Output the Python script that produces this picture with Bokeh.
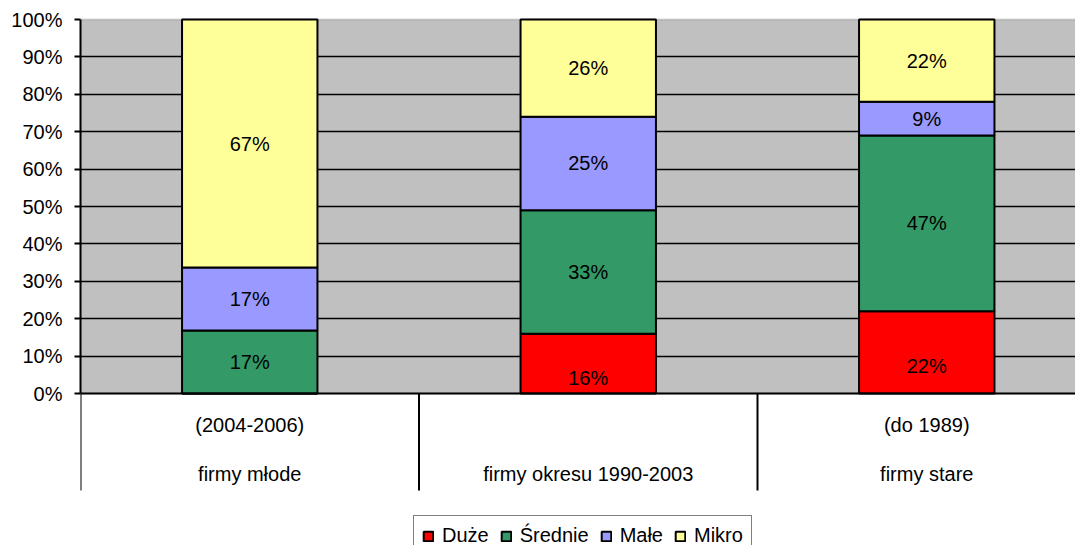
from bokeh.plotting import figure
from bokeh.models import (Range1d, FixedTicker, PrintfTickFormatter, BoxAnnotation, Span)
from bokeh.core.properties import value
from bokeh.embed import file_html
from bokeh.resources import INLINE

# ---- data ----
categories_top = ["(2004-2006)", "", "(do 1989)"]
categories_bottom = ["firmy młode", "firmy okresu 1990-2003", "firmy stare"]
series = ["Duże", "Średnie", "Małe", "Mikro"]
duze = [0, 16, 22]
srednie = [17, 33, 47]
male = [17, 25, 9]
mikro = [67, 26, 22]
colors = ["#FF0000", "#339966", "#9999FF", "#FFFF99"]
y_ticks = [0, 10, 20, 30, 40, 50, 60, 70, 80, 90, 100]

FONT = "Liberation Sans"
values = [duze, srednie, male, mikro]
n = len(categories_bottom)
xs = [i + 0.5 for i in range(n)]
totals = [sum(v[i] for v in values) for i in range(n)]

W, H = 1075, 545
LEFT, TOP = 80, 17
PX = 3.74  # pixels per percentage point
ZERO = 393  # pixel row of 0%
p = figure(width=W, height=H, output_backend="svg", toolbar_location=None,
           x_axis_type=None,
           x_range=Range1d(0, (W - LEFT) / 338.5),
           y_range=Range1d(-(H - ZERO) / PX, (ZERO - TOP) / PX),
           min_border_left=LEFT, min_border_right=0, min_border_top=TOP, min_border_bottom=0)
p.outline_line_color = None
p.background_fill_color = "white"
p.border_fill_color = "white"

# plot area background
p.add_layout(BoxAnnotation(left=0, right=n, bottom=0, top=100, fill_color="#C0C0C0",
                           fill_alpha=1, line_color="#808080", line_width=2, level="image"))

# y axis
ax = p.yaxis[0]
ax.ticker = FixedTicker(ticks=y_ticks)
ax.formatter = PrintfTickFormatter(format="%d%%")
ax.bounds = (0, 100)
ax.axis_line_color = "black"
ax.axis_line_width = 2
ax.major_tick_line_color = "black"
ax.major_tick_line_width = 2
ax.major_tick_out = 6
ax.major_tick_in = 0
ax.minor_tick_line_color = None
ax.major_label_standoff = 12
ax.major_label_text_font = FONT
ax.major_label_text_font_size = "20px"
ax.major_label_text_color = "black"

g = p.ygrid[0]
g.ticker = FixedTicker(ticks=y_ticks[1:-1])
g.grid_line_color = "black"
g.grid_line_width = 1.5
g.bounds = (0, 100)

p.add_layout(Span(location=0, dimension="width", line_color="black", line_width=2))

# stacked bars
bottom = [0.0] * n
for name, vals, col in zip(series, values, colors):
    h = [vals[i] / totals[i] * 100 for i in range(n)]
    top = [bottom[i] + h[i] for i in range(n)]
    p.vbar(x=xs, bottom=bottom, top=top, width=0.4, fill_color=col,
           line_color="black", line_width=2, legend_label=name)
    lx, ly, lt = [], [], []
    for i in range(n):
        if vals[i] > 0:
            lx.append(xs[i]); ly.append((bottom[i] + top[i]) / 2); lt.append(f"{vals[i]}%")
    p.text(x=lx, y=ly, text=lt, text_font=value(FONT), text_font_size="20px",
           text_align="center", text_baseline="middle", text_color="black",
           y_offset=14 if name == "Duże" else 0)
    bottom = top

# category axis separators and labels
sep_x = list(range(n + 1))
p.segment(x0=sep_x, x1=sep_x, y0=[0] * len(sep_x), y1=[-97 / PX] * len(sep_x),
          line_color="black", line_width=2)
p.text(x=xs, y=[-31 / PX] * n, text=categories_top, text_font=value(FONT),
       text_font_size="20px", text_align="center", text_baseline="middle", text_color="black")
p.text(x=xs, y=[-80 / PX] * n, text=categories_bottom, text_font=value(FONT),
       text_font_size="20px", text_align="center", text_baseline="middle", text_color="black")

# legend
lg = p.legend[0]
lg.orientation = "horizontal"
lg.location = (333, -11)
lg.label_text_font = FONT
lg.label_text_font_size = "20px"
lg.label_text_color = "black"
lg.glyph_width = 12
lg.glyph_height = 12
lg.label_standoff = 8
lg.spacing = 11
lg.padding = 8
lg.margin = 0
lg.border_line_color = "black"
lg.border_line_width = 1.5
lg.background_fill_color = "white"
lg.background_fill_alpha = 1

open("out.html", "w").write(file_html(p, INLINE))
